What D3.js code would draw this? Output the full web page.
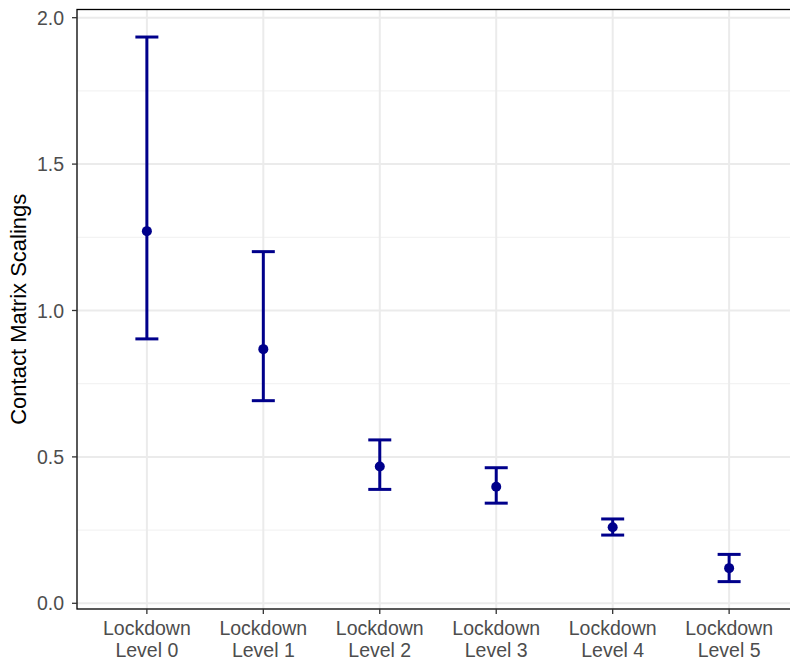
<!DOCTYPE html>
<html><head><meta charset="utf-8">
<script src="https://cdn.jsdelivr.net/npm/d3@7"></script>
<style>body{margin:0;background:#fff}svg{display:block}text{font-family:"Liberation Sans",Arial,sans-serif}</style>
</head><body><svg id="c" width="790" height="662"></svg>
<script>
const categories = ["Lockdown\nLevel 0","Lockdown\nLevel 1","Lockdown\nLevel 2","Lockdown\nLevel 3","Lockdown\nLevel 4","Lockdown\nLevel 5"];
const means = [1.271, 0.868, 0.467, 0.398, 0.260, 0.120];
const lowers = [0.903, 0.692, 0.389, 0.342, 0.233, 0.074];
const uppers = [1.934, 1.201, 0.558, 0.463, 0.288, 0.167];
const yTicks = [0, 0.5, 1.0, 1.5, 2.0];
const yMinor = [0.25, 0.75, 1.25, 1.75];

const svg = d3.select("#c");
const L = 77, T = 9.5, B = 609, R = 799;
const x = d3.scalePoint().domain(categories).range([L, R]).padding(0.6);
const y = d3.scaleLinear().domain([-0.0195, 2.028]).range([B, T]);
const col = "#00008B";

const g = svg.append("g");
g.selectAll("line.minor").data(yMinor).join("line")
  .attr("x1", L).attr("x2", R).attr("y1", d => y(d)).attr("y2", d => y(d))
  .attr("stroke", "#F3F3F3").attr("stroke-width", 1.2);
g.selectAll("line.majy").data(yTicks).join("line")
  .attr("x1", L).attr("x2", R).attr("y1", d => y(d)).attr("y2", d => y(d))
  .attr("stroke", "#EBEBEB").attr("stroke-width", 2);
g.selectAll("line.majx").data(categories).join("line")
  .attr("x1", d => x(d)).attr("x2", d => x(d)).attr("y1", T).attr("y2", B)
  .attr("stroke", "#EBEBEB").attr("stroke-width", 2);

// error bars
const idx = d3.range(categories.length);
const eb = svg.append("g").attr("stroke", col).attr("stroke-width", 3);
eb.selectAll("line.v").data(idx).join("line")
  .attr("x1", i => x(categories[i])).attr("x2", i => x(categories[i]))
  .attr("y1", i => y(lowers[i])).attr("y2", i => y(uppers[i]));
eb.selectAll("line.u").data(idx).join("line")
  .attr("x1", i => x(categories[i]) - 11.5).attr("x2", i => x(categories[i]) + 11.5)
  .attr("y1", i => y(uppers[i])).attr("y2", i => y(uppers[i]));
eb.selectAll("line.l").data(idx).join("line")
  .attr("x1", i => x(categories[i]) - 11.5).attr("x2", i => x(categories[i]) + 11.5)
  .attr("y1", i => y(lowers[i])).attr("y2", i => y(lowers[i]));
svg.append("g").selectAll("circle").data(idx).join("circle")
  .attr("cx", i => x(categories[i])).attr("cy", i => y(means[i])).attr("r", 5).attr("fill", col);

// panel border
svg.append("rect").attr("x", L).attr("y", T).attr("width", R - L).attr("height", B - T)
  .attr("fill", "none").attr("stroke", "#000").attr("stroke-width", 1.3);

// y axis
const ya = svg.append("g");
ya.selectAll("line").data(yTicks).join("line")
  .attr("x1", L - 5).attr("x2", L).attr("y1", d => y(d)).attr("y2", d => y(d))
  .attr("stroke", "#333").attr("stroke-width", 1.3);
ya.selectAll("text").data(yTicks).join("text")
  .attr("x", L - 13).attr("y", d => y(d)).attr("dy", "0.36em")
  .attr("text-anchor", "end").attr("font-size", 19.5).attr("fill", "#4D4D4D")
  .text(d => d3.format(".1f")(d));

// x axis
const xa = svg.append("g");
xa.selectAll("line").data(categories).join("line")
  .attr("x1", d => x(d)).attr("x2", d => x(d)).attr("y1", B).attr("y2", B + 5)
  .attr("stroke", "#333").attr("stroke-width", 1.3);
const xt = xa.selectAll("text").data(categories).join("text")
  .attr("text-anchor", "middle").attr("font-size", 19.5).attr("fill", "#4D4D4D");
xt.each(function(d){
  const lines = d.split("\n");
  d3.select(this).selectAll("tspan").data(lines).join("tspan")
    .attr("x", x(d)).attr("y", (l, i) => 635 + i * 22).text(l => l);
});

svg.append("text").attr("transform", "translate(26," + ((T + B) / 2) + ") rotate(-90)")
  .attr("text-anchor", "middle").attr("font-size", 22).attr("fill", "#000")
  .text("Contact Matrix Scalings");
</script></body></html>
